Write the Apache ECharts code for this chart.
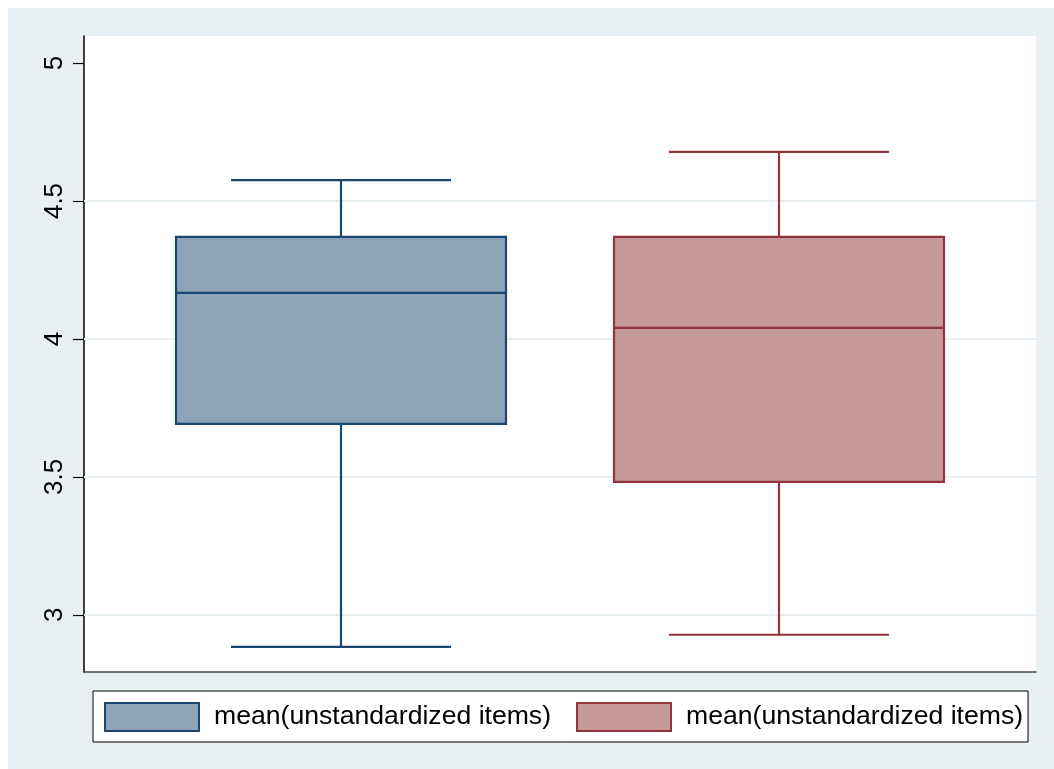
<!DOCTYPE html>
<html>
<head>
<meta charset="utf-8">
<script src="https://cdn.jsdelivr.net/npm/echarts@6/dist/echarts.min.js"></script>
<style>
  html, body { margin: 0; padding: 0; background: #ffffff; }
  #chart { position: absolute; left: 8px; top: 8px; width: 1046px; height: 761px; }
</style>
</head>
<body>
<div id="chart"></div>
<script>
// Series keys and the text shown for each in the legend
const seriesKeys = ['itemsA', 'itemsB'];
const legendLabels = ['mean(unstandardized items)', 'mean(unstandardized items)'];
// Horizontal slot of each box
const groupPositions = [0, 1];
// Five-number summaries: [lower whisker, Q1, median, Q3, upper whisker]
const summaryA = [2.884, 3.692, 4.167, 4.370, 4.576];
const summaryB = [2.928, 3.482, 4.040, 4.370, 4.678];
// Y axis tick labels and horizontal grid lines
const yTicks = [3, 3.5, 4, 4.5, 5];
const yGridLines = [3, 3.5, 4, 4.5];

const FONT = '"Liberation Sans", Arial, Helvetica, sans-serif';
const BOX_HALF = 0.3767;   // half box width in axis units
const CAP_HALF = 0.2511;   // half whisker-cap width in axis units
const styles = [
  { fill: '#8ca3b8', stroke: '#1a476f' },
  { fill: '#c8999b', stroke: '#90353b' }
];

function makeRenderer(style) {
  return function (params, api) {
    const x = api.value(0);
    const lo = api.value(1), q1 = api.value(2), med = api.value(3), q3 = api.value(4), hi = api.value(5);
    const c = (dx, v) => api.coord([x + dx, v]);
    const lineStyle = { stroke: style.stroke, lineWidth: 2.2, fill: null };
    const seg = (a, b) => ({ type: 'line', shape: { x1: a[0], y1: a[1], x2: b[0], y2: b[1] }, style: lineStyle });
    const tl = c(-BOX_HALF, q3), br = c(BOX_HALF, q1);
    return {
      type: 'group',
      children: [
        seg(c(0, q3), c(0, hi)),
        seg(c(0, q1), c(0, lo)),
        seg(c(-CAP_HALF, hi), c(CAP_HALF, hi)),
        seg(c(-CAP_HALF, lo), c(CAP_HALF, lo)),
        {
          type: 'rect',
          shape: { x: tl[0], y: tl[1], width: br[0] - tl[0], height: br[1] - tl[1] },
          style: { fill: style.fill, stroke: style.stroke, lineWidth: 2.2 }
        },
        seg(c(-BOX_HALF, med), c(BOX_HALF, med))
      ]
    };
  };
}

const summaries = [summaryA, summaryB];
const series = seriesKeys.map((key, i) => {
  const s = {
    name: key,
    type: 'custom',
    z: 3,
    renderItem: makeRenderer(styles[i]),
    encode: { x: 0, y: [1, 2, 3, 4, 5] },
    data: [[groupPositions[i]].concat(summaries[i])]
  };
  if (i === 0) {
    s.markLine = {
      silent: true,
      z: 1,
      symbol: ['none', 'none'],
      label: { show: false },
      lineStyle: { color: '#e6eef1', width: 2, type: 'solid' },
      data: yGridLines.map(v => ({ yAxis: v }))
    };
  }
  return s;
});

const chart = echarts.init(document.getElementById('chart'));
chart.setOption({
  animation: false,
  backgroundColor: '#e9f0f3',
  grid: {
    left: 76, right: 18, top: 28, bottom: 97,
    show: true, backgroundColor: '#ffffff', borderWidth: 0
  },
  xAxis: {
    type: 'value',
    min: -0.5868, max: 1.5868,
    axisLine: { show: true, onZero: false, lineStyle: { color: '#444444', width: 1.5 } },
    axisTick: { show: false },
    axisLabel: { show: false },
    splitLine: { show: false }
  },
  yAxis: {
    type: 'value',
    min: 2.793, max: 5.098,
    axisLine: { show: true, onZero: false, lineStyle: { color: '#000000', width: 1.5 } },
    axisTick: { show: true, length: 11, customValues: yTicks, lineStyle: { color: '#000000', width: 1.2 } },
    axisLabel: {
      customValues: yTicks, rotate: 90, margin: 16,
      color: '#000000', fontSize: 26, fontFamily: FONT
    },
    splitLine: { show: false }
  },
  legend: {
    left: 85, top: 683,
    orient: 'horizontal',
    selectedMode: false,
    data: seriesKeys.map((key, i) => ({
      name: key,
      icon: 'rect',
      itemStyle: { color: styles[i].fill, borderColor: styles[i].stroke, borderWidth: 2 }
    })),
    formatter: name => legendLabels[seriesKeys.indexOf(name)],
    itemWidth: 94, itemHeight: 28, itemGap: 25,
    padding: [11, 5, 10, 11],
    backgroundColor: '#ffffff', borderColor: '#000000', borderWidth: 1, borderRadius: 0,
    textStyle: { color: '#000000', fontSize: 26.6, fontFamily: FONT, lineHeight: 28, padding: [0, 0, 0, 10] }
  },
  series: series
});
</script>
</body>
</html>
